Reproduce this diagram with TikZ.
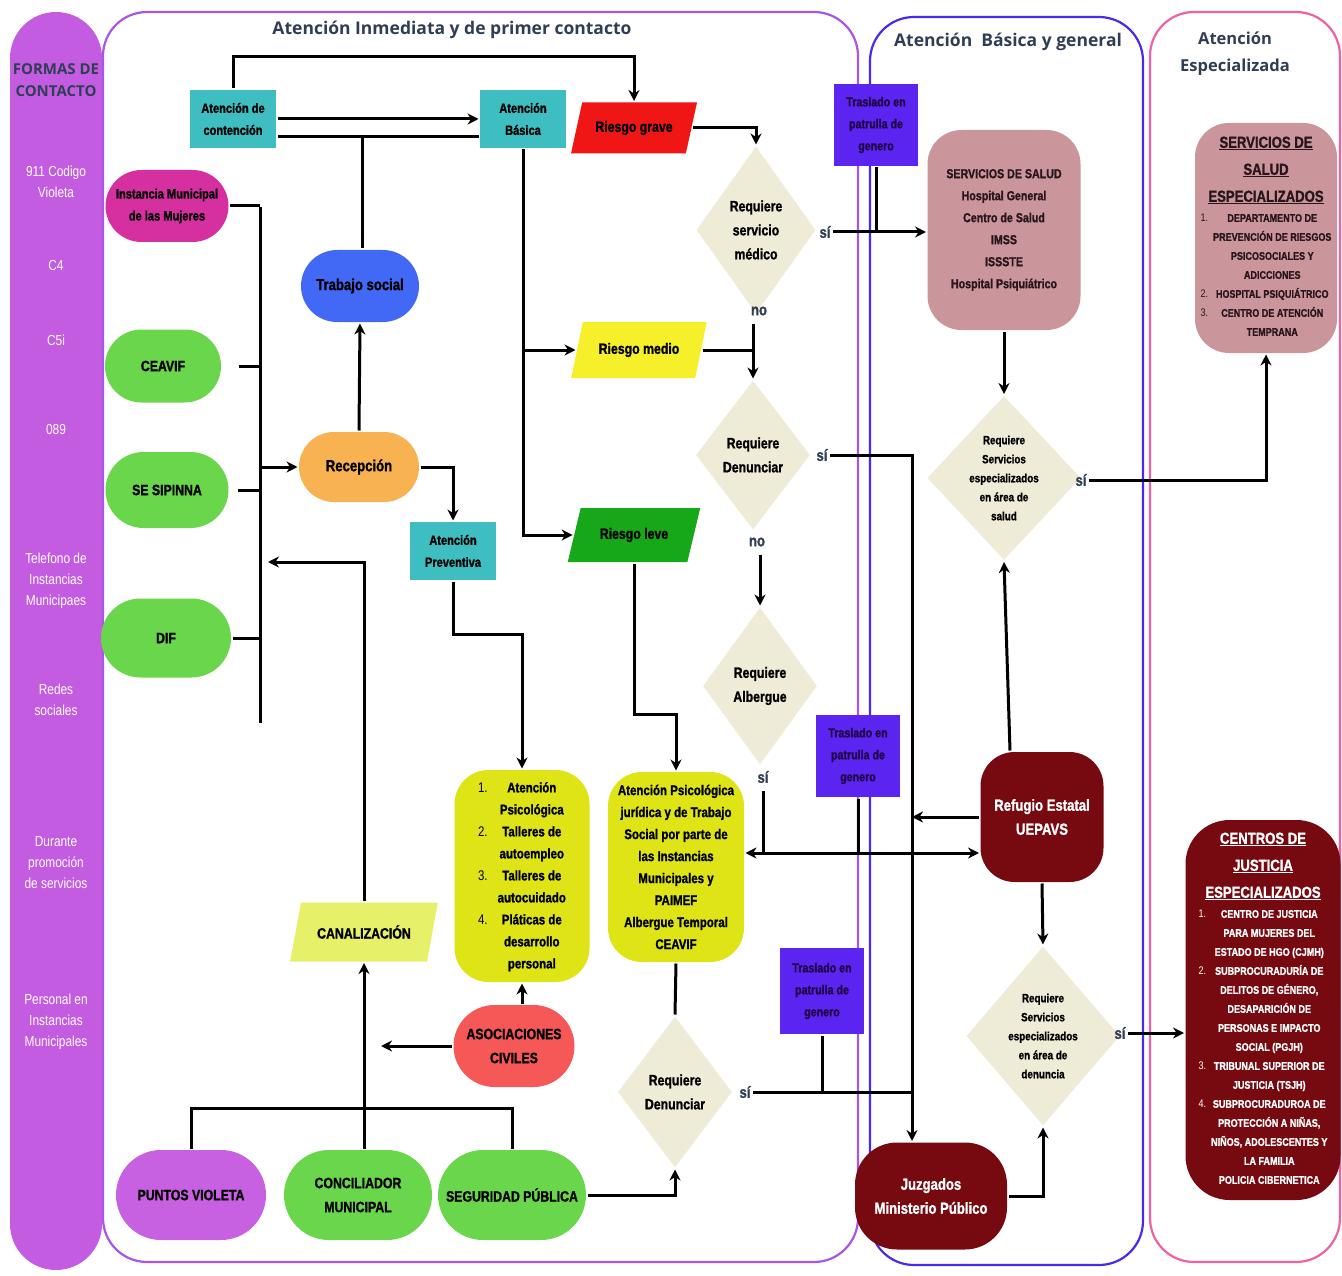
\documentclass[tikz,border=0pt]{standalone}
\usepackage{fontspec}
\setmainfont{Liberation Sans}
\newfontfamily\cond{Liberation Sans}[FakeStretch=0.82, BoldFeatures={FakeBold=1.2}]
\newfontfamily\titlefont{Open Sans}
\usetikzlibrary{shapes.geometric,shapes.misc,arrows.meta}
\newcommand{\fsz}[2]{\fontsize{#1}{#2}\selectfont}

\definecolor{barc}{RGB}{196,92,226}
\definecolor{secA}{RGB}{168,86,232}
\definecolor{secB}{RGB}{72,42,232}
\definecolor{secC}{RGB}{242,96,164}
\definecolor{slate}{RGB}{47,62,84}
\definecolor{tealc}{RGB}{62,190,192}
\definecolor{gravec}{RGB}{240,22,22}
\definecolor{medioc}{RGB}{246,240,42}
\definecolor{levec}{RGB}{22,168,24}
\definecolor{greenc}{RGB}{106,214,76}
\definecolor{magc}{RGB}{214,48,160}
\definecolor{bluec}{RGB}{66,104,246}
\definecolor{orangec}{RGB}{248,178,82}
\definecolor{limec}{RGB}{222,228,22}
\definecolor{canalc}{RGB}{230,240,104}
\definecolor{patrolc}{RGB}{92,36,240}
\definecolor{patroltxt}{RGB}{30,5,70}
\definecolor{mauvec}{RGB}{202,150,156}
\definecolor{wine}{RGB}{118,10,16}
\definecolor{salmonc}{RGB}{246,88,88}
\definecolor{violetc}{RGB}{200,96,226}
\definecolor{askc}{RGB}{238,236,214}
\definecolor{darktxt}{RGB}{40,22,26}

\begin{document}
\begin{tikzpicture}[x=1pt, y=-1pt, line width=3pt,
    base/.style={font=\cond\bfseries, align=center, inner sep=1pt},
    pill/.style={base, rounded rectangle, fill=#1, font=\cond\bfseries\fsz{15}{24}},
    barrel/.style={base, rounded corners=34pt, fill=#1},
    tealbox/.style={base, fill=tealc, minimum width=86pt, minimum height=58pt, font=\cond\bfseries\fsz{13.5}{22}},
    patrol/.style={base, fill=patrolc, minimum width=84pt, minimum height=82pt, font=\cond\bfseries\fsz{13}{22}\color{patroltxt}, text=patroltxt},
    risk/.style={base, trapezium, trapezium left angle=62, trapezium right angle=118, trapezium stretches=true, fill=#1, font=\cond\bfseries\fsz{15}{18}},
    ask/.style={base, diamond, fill=askc, inner sep=0pt, font=\cond\bfseries\fsz{15}{24}},
    ans/.style={font=\cond\bfseries\fsz{16}{18}, text=slate, inner sep=1pt},
    sidetxt/.style={font=\cond\fsz{14.5}{21}, text=white, align=center},
    sectitle/.style={font=\titlefont\bfseries\fsz{17.5}{27}, text=slate, align=center},
    arr/.style={-{Stealth[length=11pt,width=11pt]}},
    arrboth/.style={{Stealth[length=11pt,width=11pt]}-{Stealth[length=11pt,width=11pt]}}]
\useasboundingbox (0,0) rectangle (1342,1276);

% marcos de las etapas
\fill[barc, rounded corners=46pt] (10,12) rectangle (102,1270);
\draw[secA, line width=2.2pt, rounded corners=44pt] (103,12) rectangle (858,1262);
\draw[secB, line width=2.2pt, rounded corners=44pt] (870,17) rectangle (1143,1265);
\draw[secC, line width=2.2pt, rounded corners=44pt] (1150,12) rectangle (1340,1262);

\node[sectitle] (tituloA) at (452,30) {Atención Inmediata y de primer contacto};
\node[sectitle] (tituloB) at (1008,42) {Atención\ \ Básica y general};
\node[sectitle, font=\titlefont\bfseries\fsz{16.5}{27}] (tituloC) at (1235,54) {Atención\\Especializada};

% formas de contacto
\node[font=\titlefont\bfseries\fsz{15}{22}, text=slate, align=center] (formas) at (56,80) {FORMAS DE\\CONTACTO};
\node[sidetxt] (f911) at (56,182) {911 Codigo\\Violeta};
\node[sidetxt] (fc4) at (56,266) {C4};
\node[sidetxt] (fc5) at (56,340) {C5i};
\node[sidetxt] (f089) at (56,430) {089};
\node[sidetxt] (ftel) at (56,581) {Telefono de\\Instancias\\Municipaes};
\node[sidetxt] (fredes) at (56,700) {Redes\\sociales};
\node[sidetxt] (fprom) at (56,863) {Durante\\promoción\\de servicios};
\node[sidetxt] (fpers) at (56,1022) {Personal en\\Instancias\\Municipales};

% atencion inmediata
\node[tealbox] (contencion) at (233,119) {Atención de\\contención};
\node[tealbox] (basica) at (523,119) {Atención\\Básica};
\node[tealbox] (preventiva) at (453,551) {Atención\\Preventiva};
\node[risk=gravec, minimum width=127pt, minimum height=51pt] (grave) at (634,128) {Riesgo grave};
\node[risk=medioc, minimum width=136pt, minimum height=56pt] (medio) at (639,350) {Riesgo medio};
\node[risk=levec, minimum width=133pt, minimum height=54pt] (leve) at (634,535) {Riesgo leve};
\node[risk=canalc, minimum width=148pt, minimum height=59pt] (canalizacion) at (364,932) {CANALIZACIÓN};

\node[pill=magc, minimum width=125pt, minimum height=72pt, font=\cond\bfseries\fsz{13.5}{22}] (instancia) at (167,206) {Instancia Municipal\\de las Mujeres};
\node[pill=bluec, minimum width=120pt, minimum height=72pt, font=\cond\bfseries\fsz{16}{22}] (trabajo) at (360,286) {Trabajo social};
\node[pill=greenc, minimum width=118pt, minimum height=73pt] (ceavif) at (163,366) {CEAVIF};
\node[pill=greenc, minimum width=125pt, minimum height=76pt] (sesipinna) at (167,490) {SE SIPINNA};
\node[pill=greenc, minimum width=132pt, minimum height=79pt] (dif) at (166,638) {DIF};
\node[pill=orangec, minimum width=122pt, minimum height=70pt, font=\cond\bfseries\fsz{16}{22}] (recepcion) at (359,467) {Recepción};
\node[pill=salmonc, minimum width=123pt, minimum height=82pt] (asociaciones) at (514,1046) {ASOCIACIONES\\CIVILES};
\node[pill=violetc, minimum width=152pt, minimum height=90pt] (puntos) at (191,1195) {PUNTOS VIOLETA};
\node[pill=greenc, minimum width=150pt, minimum height=90pt] (conciliador) at (358,1195) {CONCILIADOR\\MUNICIPAL};
\node[pill=greenc, minimum width=150pt, minimum height=90pt] (seguridad) at (512,1195) {SEGURIDAD PÚBLICA};

\node[ask, minimum width=120pt, minimum height=168pt] (servicio) at (756,230) {Requiere\\servicio\\médico};
\node[ask, minimum width=115pt, minimum height=150pt] (denunciarA) at (753,455) {Requiere\\Denunciar};
\node[ask, minimum width=115pt, minimum height=158pt] (albergue) at (760,686) {Requiere\\Albergue};
\node[ask, minimum width=115pt, minimum height=152pt] (denunciarB) at (675,1092) {Requiere\\Denunciar};

\node[barrel=limec, minimum width=135pt, minimum height=212pt, font=\cond\bfseries\fsz{14}{22}] (talleres) at (522,876) {%
  \begin{tabular}{@{}l@{\hspace{10pt}}c@{}}
  {\mdseries 1.} & Atención\\ & Psicológica\\
  {\mdseries 2.} & Talleres de\\ & autoempleo\\
  {\mdseries 3.} & Talleres de\\ & autocuidado\\
  {\mdseries 4.} & Pláticas de\\ & desarrollo\\ & personal
  \end{tabular}};
\node[barrel=limec, minimum width=136pt, minimum height=190pt, font=\cond\bfseries\fsz{14}{22}] (psico) at (676,867) {Atención Psicológica\\jurídica y de Trabajo\\Social por parte de\\las Instancias\\Municipales y\\PAIMEF\\Albergue Temporal\\CEAVIF};

\node[patrol] (trasladoA) at (876,125) {Traslado en\\patrulla de\\genero};
\node[patrol] (trasladoB) at (858,756) {Traslado en\\patrulla de\\genero};
\node[patrol, minimum height=86pt] (trasladoC) at (822,991) {Traslado en\\patrulla de\\genero};

\node[ans] (siA) at (825,232) {sí};
\node[ans] (noA) at (759,311) {no};
\node[ans] (siB) at (822,455) {sí};
\node[ans] (noB) at (757,542) {no};
\node[ans] (siC) at (763,777) {sí};
\node[ans] (siF) at (745,1092) {sí};

% atencion basica y general
\node[barrel=mauvec, minimum width=153pt, minimum height=200pt, text=darktxt, font=\cond\bfseries\fsz{13}{22}] (salud) at (1004,230) {SERVICIOS DE SALUD\\Hospital General\\Centro de Salud\\IMSS\\ISSSTE\\Hospital Psiquiátrico};
\node[ask, minimum width=120pt, minimum height=165pt, font=\cond\bfseries\fsz{12}{19}] (saludDiam) at (1004,478) {Requiere\\Servicios\\especializados\\en área de\\salud};
\node[barrel=wine, minimum width=123pt, minimum height=130pt, text=white, font=\cond\bfseries\fsz{16}{24}] (refugio) at (1042,817) {Refugio Estatal\\UEPAVS};
\node[ask, minimum width=120pt, minimum height=180pt, font=\cond\bfseries\fsz{12}{19}] (denunciaDiam) at (1043,1036) {Requiere\\Servicios\\especializados\\en área de\\denuncia};
\node[barrel=wine, rounded corners=42pt, minimum width=152pt, minimum height=107pt, text=white, font=\cond\bfseries\fsz{16}{24}] (juzgados) at (931,1196) {Juzgados\\Ministerio Público};
\node[ans] (siD) at (1081,480) {sí};
\node[ans] (siE) at (1120,1033) {sí};

% atencion especializada
\node[barrel=mauvec, minimum width=142pt, minimum height=230pt, text=darktxt, font=\cond\bfseries\fsz{11}{19}] (saludEsp) at (1266,238) {%
  \begin{tabular}{@{}l@{\hspace{5pt}}c@{}}
  \multicolumn{2}{c}{\fsz{16}{19}\underline{SERVICIOS DE}}\\[8pt]
  \multicolumn{2}{c}{\fsz{16}{19}\underline{SALUD}}\\[8pt]
  \multicolumn{2}{c}{\fsz{16}{19}\underline{ESPECIALIZADOS}}\\[1pt]
  {\mdseries 1.} & DEPARTAMENTO DE\\
  & PREVENCIÓN DE RIESGOS\\
  & PSICOSOCIALES Y\\
  & ADICCIONES\\
  {\mdseries 2.} & HOSPITAL PSIQUIÁTRICO\\
  {\mdseries 3.} & CENTRO DE ATENCIÓN\\
  & TEMPRANA
  \end{tabular}};
\node[barrel=wine, rounded corners=44pt, minimum width=155pt, minimum height=380pt, text=white, font=\cond\bfseries\fsz{11}{19}] (justicia) at (1263,1010) {%
  \begin{tabular}{@{}l@{\hspace{5pt}}c@{}}
  \multicolumn{2}{c}{\fsz{16}{19}\underline{CENTROS DE}}\\[8pt]
  \multicolumn{2}{c}{\fsz{16}{19}\underline{JUSTICIA}}\\[8pt]
  \multicolumn{2}{c}{\fsz{16}{19}\underline{ESPECIALIZADOS}}\\[1pt]
  {\mdseries 1.} & CENTRO DE JUSTICIA\\
  & PARA MUJERES DEL\\
  & ESTADO DE HGO (CJMH)\\
  {\mdseries 2.} & SUBPROCURADURÍA DE\\
  & DELITOS DE GÉNERO,\\
  & DESAPARICIÓN DE\\
  & PERSONAS E IMPACTO\\
  & SOCIAL (PGJH)\\
  {\mdseries 3.} & TRIBUNAL SUPERIOR DE\\
  & JUSTICIA (TSJH)\\
  {\mdseries 4.} & SUBPROCURADUROA DE\\
  & PROTECCIÓN A NIÑAS,\\
  & NIÑOS, ADOLESCENTES Y\\
  & LA FAMILIA\\
  & POLICIA CIBERNETICA
  \end{tabular}};

% conexiones
\draw[arr] (contencion.north) -- ++(0,-32) -| (grave.north);
\draw[arr] (contencion.east) -- (basica.west);
\draw ([yshift=-18pt]contencion.east) -- ([yshift=-18pt]basica.west);
\draw ([xshift=2pt]trabajo.north) -- ++(0,-113);
\draw[arr] (basica.south) |- (leve.west);
\draw[arr] (basica.south |- medio.west) -- (medio.west);
\draw[arr] (grave.east) -| (servicio.north);
\draw[arr] (siA.east) -- (siA.east -| salud.west);
\draw (trasladoA.south) -- (trasladoA.south |- siA.east);
\draw[arr, shorten <=6pt] (denunciarA.north |- noA.south) -- (denunciarA.north);
\draw (medio.east) -- (medio.east -| denunciarA.north);
\coordinate (vline) at ([xshift=-19pt]juzgados.north);
\draw[arr] (siB.east) -| (vline);
\draw[arr, shorten <=6pt] (albergue.north |- noB.south) -- (albergue.north);
\coordinate (busC) at ([yshift=14pt]psico.east);
\draw[arrboth] (busC) -- (busC -| refugio.west);
\draw[shorten <=6pt] (siC.south) -- (siC.south |- busC);
\draw (trasladoB.south) -- (trasladoB.south |- busC);
\draw[arr] (refugio.west) -- (refugio.west -| vline);
\draw[arr] ([xshift=-32pt]refugio.north) -- (saludDiam.south);
\draw[arr] (refugio.south) -- (denunciaDiam.north);
\draw[arr] (juzgados.east) -| (denunciaDiam.south);
\draw[arr] (siE.east) -- (siE.east -| justicia.west);
\draw[arr] (salud.south) -- (saludDiam.north);
\draw[arr] (siD.east) -| (saludEsp.south);
\draw[arr] (leve.south) -- ++(0,151) -| (psico.north);
\draw[arr] (preventiva.south) -- ++(0,53) -| (talleres.north);
\draw[arr] (recepcion.east) -| (preventiva.north);
\draw[arr] (recepcion.north) -- (trabajo.south);

\coordinate (busTop) at (260,207);
\coordinate (busBot) at (260,723);
\draw (busTop) -- (busBot);
\draw (instancia.east) -- (instancia.east -| busTop);
\draw ([xshift=16pt]ceavif.east) -- (ceavif.east -| busTop);
\draw ([xshift=8pt]sesipinna.east) -- (sesipinna.east -| busTop);
\draw (dif.east) -- (dif.east -| busTop);
\draw[arr] (recepcion.west -| busTop) -- (recepcion.west);
\coordinate (busArr) at (268,562);
\draw[arr] (canalizacion.north) |- (busArr);

\coordinate (canalLine) at ([xshift=17pt]canalizacion.south);
\draw[arr] (asociaciones.west) -- (canalLine |- asociaciones.west);
\draw[arr] (canalizacion.south |- conciliador.north) -- (canalizacion.south);
\draw (puntos.north) -- ++(0,-40) -| (seguridad.north);
\draw[arr] (talleres.south |- asociaciones.north) -- (talleres.south);
\draw[arr] (seguridad.east) -| (denunciarB.south);
\draw (psico.south) -- (denunciarB.north);
\draw (siF.east) -- (siF.east -| vline);
\draw (trasladoC.south) -- (trasladoC.south |- siF.east);
\end{tikzpicture}
\end{document}
